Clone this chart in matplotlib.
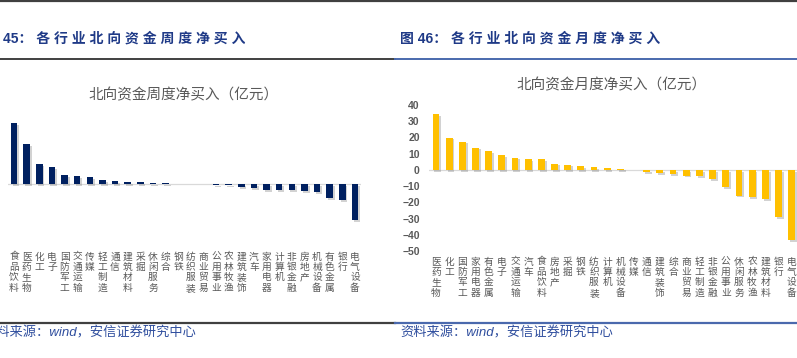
import matplotlib
matplotlib.use("Agg")
import matplotlib.pyplot as plt
import matplotlib.patheffects as pe

plt.rcParams['font.family'] = ['Noto Sans CJK SC', 'DejaVu Sans']

# weekly net buy (left chart, axis not shown in the crop)
week_industries = ['食品饮料', '医药生物', '化工', '电子', '国防军工', '交通运输', '传媒',
                   '轻工制造', '通信', '建筑材料', '采掘', '休闲服务', '综合', '钢铁',
                   '纺织服装', '商业贸易', '公用事业', '农林牧渔', '建筑装饰', '汽车',
                   '家用电器', '计算机', '非银金融', '房地产', '机械设备', '有色金属',
                   '银行', '电气设备']
week_values = [30.8, 20.0, 10.3, 8.7, 4.5, 4.0, 3.5, 2.3, 1.7, 1.3, 1.2, 0.8, 0.5, 0.2,
               0.05, -0.05, -0.3, -0.5, -1.2, -2.0, -2.9, -2.9, -3.0, -3.2, -3.9, -6.9,
               -7.7, -17.7]

# monthly net buy (right chart)
month_industries = ['医药生物', '化工', '国防军工', '家用电器', '有色金属', '电子', '交通运输',
                    '汽车', '食品饮料', '房地产', '采掘', '钢铁', '纺织服装', '计算机',
                    '机械设备', '传媒', '通信', '建筑装饰', '综合', '商业贸易', '轻工制造',
                    '非银金融', '公用事业', '休闲服务', '农林牧渔', '建筑材料', '银行',
                    '电气设备']
month_values = [34.5, 19.9, 17.4, 13.7, 11.7, 9.0, 7.6, 6.8, 6.8, 3.9, 3.3, 2.3, 1.6, 1.2,
                0.8, 0.1, -1.2, -2.0, -2.4, -3.5, -3.9, -5.7, -10.7, -15.8, -16.8, -18.0,
                -29.1, -43.5]
month_ticks = [40, 30, 20, 10, 0, -10, -20, -30, -40, -50]

W, H = 797, 358
GRAY = '#595959'
fig = plt.figure(figsize=(W / 100, H / 100), dpi=100)


def px_axes(x0, y0, x1, y1):
    return fig.add_axes([x0 / W, 1 - y1 / H, (x1 - x0) / W, (y1 - y0) / H])


def draw_bars(ax, labels, values, color):
    x = list(range(len(values)))
    bars = ax.bar(x, values, width=0.52, color=color, zorder=3)
    for b in bars:
        b.set_path_effects([pe.SimplePatchShadow(offset=(1.3, -1.3), shadow_rgbFace='#7f7f7f',
                                                 alpha=0.35), pe.Normal()])
    ax.axhline(0, color='#D9D9D9', lw=0.9, zorder=2)
    ax.set_xlim(-0.5, len(values) - 0.5)
    ax.set_xticks(x, ['\n'.join(s) for s in labels], fontsize=7, color=GRAY, linespacing=1.05)
    ax.tick_params(axis='x', length=0, pad=4)
    for s in ax.spines.values():
        s.set_visible(False)
    ax.patch.set_alpha(0)


ax1 = px_axes(7.7, 110, 361.3, 246)
draw_bars(ax1, week_industries, week_values, '#002060')
ax1.set_ylim(-30.85, 37.15)
ax1.set_yticks([])

ax2 = px_axes(429.4, 105, 798.2, 251)
draw_bars(ax2, month_industries, month_values, '#FFC000')
ax2.set_ylim(-50, 40)
ax2.set_yticks(month_ticks)
ax2.tick_params(axis='y', length=0, pad=7, labelsize=7.5, labelcolor=GRAY)
for t in ax2.get_yticklabels():
    t.set_family(['Liberation Sans', 'DejaVu Sans'])
    t.set_fontweight('bold')

# page decoration: captions, rules, source notes
ov = fig.add_axes([0, 0, 1, 1])
ov.set_xlim(0, W)
ov.set_ylim(H, 0)
ov.axis('off')
ov.patch.set_alpha(0)

ov.plot([0, W], [1.2, 1.2], color='#404040', lw=1.6)
ov.plot([0, 395], [58.5, 58.5], color='#404040', lw=1.4)
ov.plot([395, W], [58.5, 58.5], color='#4A69AD', lw=1.4)
ov.plot([0, 395], [322.5, 322.5], color='#404040', lw=1.6)
ov.plot([395, W], [322.5, 322.5], color='#4A69AD', lw=1.6)

cap = dict(fontsize=10, fontweight='bold', color='#1F3A87', va='center',
           family=['Liberation Sans', 'Noto Sans CJK SC'])
ov.text(3, 39, '45： 各 行 业 北 向 资 金 周 度 净 买 入', **cap)
ov.text(400, 39, '图 46： 各 行 业 北 向 资 金 月 度 净 买 入', **cap)

ov.text(184, 95, '北向资金周度净买入（亿元）', ha='center', va='center', fontsize=10.5, color=GRAY)
ov.text(611.5, 85, '北向资金月度净买入（亿元）', ha='center', va='center', fontsize=10.5, color=GRAY)

src = dict(fontsize=9.5, color='#2F4E9E', va='center', style='italic',
           family=['Liberation Sans', 'Noto Sans CJK SC'])
ov.text(-17, 333, '资料来源：wind，安信证券研究中心', **src)
ov.text(400, 333, '资料来源：wind，安信证券研究中心', **src)

fig.savefig('out.png', dpi=100)
